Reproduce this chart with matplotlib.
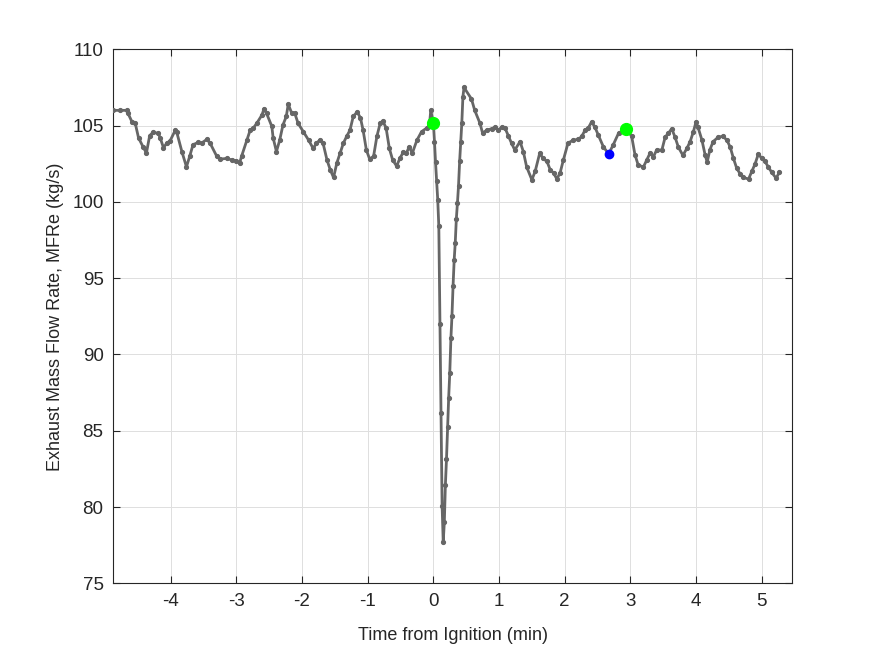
import matplotlib.pyplot as plt

# время от зажигания (мин) и расход выхлопа MFRe (кг/с)
time_min = [
    -4.874, -4.77, -4.66, -4.65, -4.59, -4.54, -4.49, -4.42, -4.37, -4.32,
    -4.27, -4.19, -4.16, -4.11, -4.06, -4.01, -3.93, -3.91, -3.83, -3.76,
    -3.71, -3.66, -3.58, -3.53, -3.45, -3.40, -3.30, -3.25, -3.15, -3.07,
    -3.00, -2.95, -2.92, -2.84, -2.79, -2.74, -2.69, -2.61, -2.58, -2.54,
    -2.46, -2.44, -2.39, -2.34, -2.29, -2.24, -2.21, -2.16, -2.11, -2.06,
    -1.98, -1.90, -1.83, -1.78, -1.73, -1.68, -1.62, -1.57, -1.52, -1.47,
    -1.42, -1.37, -1.32, -1.27, -1.22, -1.16, -1.11, -1.07, -1.02, -0.97,
    -0.91, -0.86, -0.81, -0.77, -0.72, -0.67, -0.62, -0.56, -0.51, -0.46,
    -0.41, -0.37, -0.32, -0.25, -0.18, -0.10, -0.06, -0.04,
    0.0, 0.017, 0.033, 0.05, 0.067, 0.083, 0.10, 0.117, 0.133, 0.15,
    0.167, 0.183, 0.20, 0.217, 0.233, 0.25, 0.267, 0.283, 0.30, 0.317,
    0.333, 0.35, 0.367, 0.383, 0.40, 0.417, 0.433, 0.45, 0.467,
    0.58, 0.63, 0.71, 0.75, 0.81, 0.89, 0.94, 0.99, 1.04, 1.09,
    1.14, 1.19, 1.24, 1.32, 1.37, 1.42, 1.50, 1.55, 1.62, 1.67,
    1.73, 1.78, 1.83, 1.88, 1.93, 1.98, 2.05, 2.13, 2.21, 2.26,
    2.31, 2.36, 2.41, 2.46, 2.51, 2.59, 2.67, 2.74, 2.82, 2.94,
    3.02, 3.07, 3.12, 3.20, 3.25, 3.30, 3.35, 3.40, 3.48, 3.53,
    3.58, 3.63, 3.68, 3.73, 3.80, 3.86, 3.91, 3.96, 4.00, 4.03,
    4.09, 4.14, 4.17, 4.21, 4.26, 4.34, 4.41, 4.47, 4.52, 4.57,
    4.62, 4.67, 4.72, 4.80, 4.85, 4.90, 4.95, 5.00, 5.05, 5.10,
    5.15, 5.22, 5.27,
]
mfre = [
    106.0, 106.0, 106.0, 105.8, 105.25, 105.15, 104.2, 103.6, 103.2, 104.35,
    104.55, 104.5, 104.2, 103.55, 103.85, 104.0, 104.7, 104.6, 103.3, 102.3,
    103.0, 103.75, 103.9, 103.85, 104.1, 103.85, 103.0, 102.8, 102.85, 102.75,
    102.7, 102.55, 103.0, 104.05, 104.7, 104.85, 105.15, 105.7, 106.1, 105.8,
    104.95, 104.2, 103.3, 104.05, 105.05, 105.6, 106.4, 105.85, 105.8, 105.15,
    104.6, 104.05, 103.5, 103.85, 104.05, 103.85, 102.75, 102.1, 101.6, 102.55,
    103.2, 103.85, 104.3, 104.7, 105.6, 105.9, 105.5, 104.7, 103.4, 102.8,
    103.0, 104.3, 105.15, 105.3, 104.85, 103.5, 102.75, 102.35, 102.85, 103.25,
    103.2, 103.6, 103.2, 104.05, 104.6, 104.85, 105.0, 106.0,
    105.2, 103.95, 102.6, 101.35, 100.1, 98.4, 92.0, 86.15, 80.1, 77.7,
    79.0, 81.45, 83.15, 85.25, 87.15, 88.8, 91.05, 92.5, 94.5, 96.2,
    97.3, 98.9, 99.95, 101.05, 102.65, 103.95, 105.15, 106.9, 107.5,
    106.75, 106.0, 105.15, 104.5, 104.7, 104.8, 104.9, 104.7, 104.9, 104.85,
    104.35, 103.85, 103.4, 103.95, 103.3, 102.3, 101.45, 102.0, 103.2, 102.85,
    102.65, 102.1, 101.9, 101.5, 101.9, 102.75, 103.85, 104.05, 104.1, 104.3,
    104.7, 104.85, 105.25, 104.9, 104.4, 103.6, 103.15, 103.75, 104.5, 104.8,
    104.3, 103.1, 102.4, 102.3, 102.75, 103.2, 102.95, 103.4, 103.4, 104.25,
    104.5, 104.8, 104.25, 103.6, 103.05, 103.5, 103.95, 104.6, 105.25, 104.9,
    104.05, 103.05, 102.6, 103.4, 103.95, 104.25, 104.3, 104.05, 103.6, 102.85,
    102.2, 101.85, 101.6, 101.5, 102.0, 102.5, 103.15, 102.85, 102.65, 102.3,
    101.95, 101.55, 101.95,
]

# отмеченные точки
green_t = [0.0, 2.94]
green_v = [105.2, 104.8]
blue_t = [2.67]
blue_v = [103.15]

plt.rcParams['font.family'] = ['Liberation Sans', 'DejaVu Sans']
plt.rcParams['axes.unicode_minus'] = False  # обычный дефис, как в MATLAB

fig = plt.figure(figsize=(8.75, 6.56), dpi=100)
ax = fig.add_axes([0.1295, 0.1108, 0.7753, 0.814])

ax.plot(time_min, mfre, '-', color='#666666', linewidth=2.0,
        marker='.', markersize=5.5, zorder=3)
ax.plot(green_t, green_v, 'o', color='#00ff00', markersize=8.5, zorder=4)
ax.plot(blue_t, blue_v, 'o', color='#0000ff', markersize=6, zorder=4)

ax.set_xlim(-4.874, 5.457)
ax.set_ylim(75, 110)
ax.set_xticks(range(-4, 6))
ax.set_yticks(range(75, 111, 5))

ax.grid(True, color='#dfdfdf', linewidth=0.7)
ax.set_axisbelow(True)
ax.tick_params(direction='in', length=5, width=0.8, colors='#262626',
               labelsize=13.5, top=True, right=True, pad=7)
for s in ax.spines.values():
    s.set_color('#262626')
    s.set_linewidth(0.8)

ax.set_xlabel("Time from Ignition (min)", fontsize=13, color='#262626', labelpad=12)
ax.set_ylabel("Exhaust Mass Flow Rate, MFRe (kg/s)", fontsize=13, color='#262626', labelpad=6)

fig.savefig("out.png", dpi=100)
